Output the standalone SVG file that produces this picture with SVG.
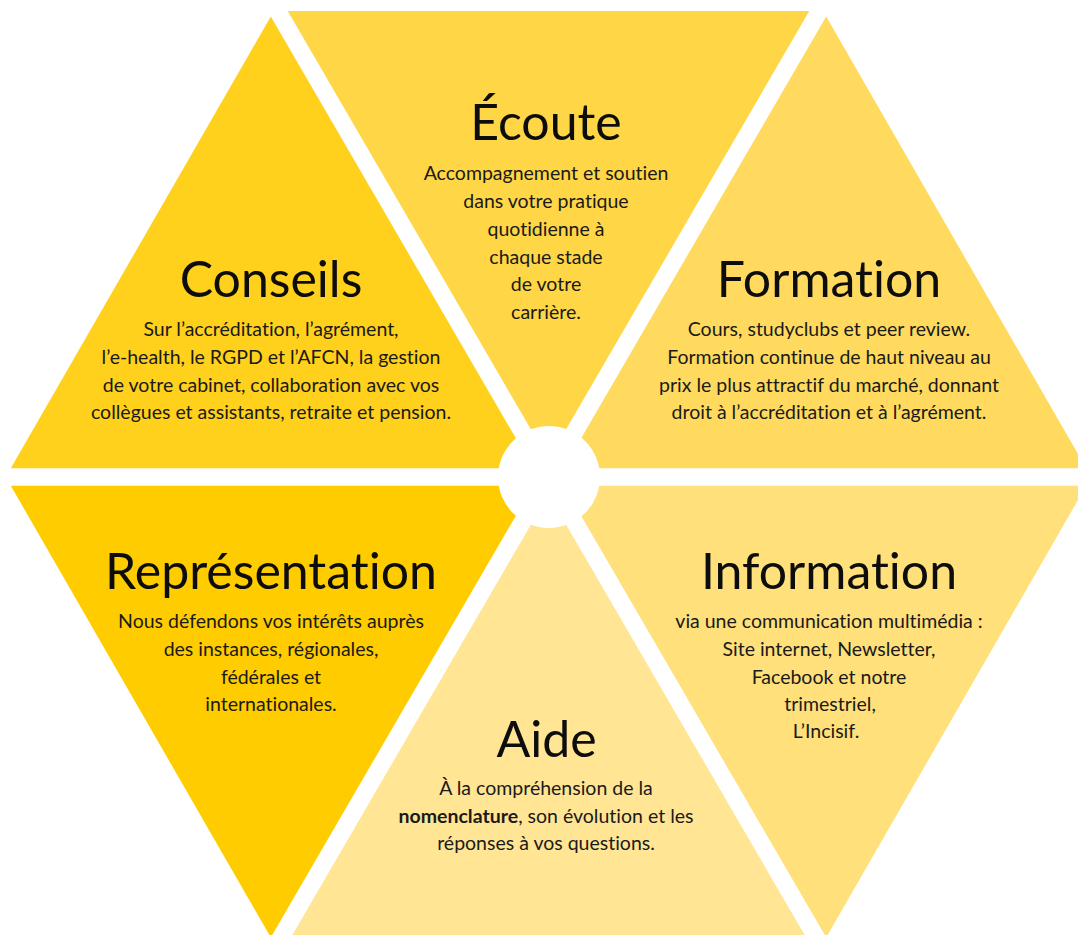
<svg xmlns="http://www.w3.org/2000/svg" width="1078" height="935" viewBox="0 0 1078 935">
  <style>
    .title { font-family: Lato, "Open Sans", "Liberation Sans", sans-serif; font-size: 50px; fill: #0d0d0d; text-anchor: middle; font-variant-ligatures: none; }
    .body { font-family: Lato, "Open Sans", "Liberation Sans", sans-serif; font-size: 19.5px; fill: #1a1a1a; text-anchor: middle; font-variant-ligatures: none; }
    .body .strong { font-weight: 700; }
  </style>
  <rect width="1078" height="935" fill="#ffffff"/>

  <!-- six wedges of the hexagon, separated by white gaps -->
  <g id="ecoute">
    <polygon points="287.7,11 809.3,11 548.5,459.6" fill="#ffd646"/>
    <text class="title" x="546" y="140">Écoute</text>
    <text class="body" x="546" y="180">Accompagnement et soutien</text>
    <text class="body" x="546" y="208">dans votre pratique</text>
    <text class="body" x="546" y="236">quotidienne à</text>
    <text class="body" x="546" y="263.5">chaque stade</text>
    <text class="body" x="546" y="291">de votre</text>
    <text class="body" x="546" y="318.5">carrière.</text>
  </g>

  <g id="conseils">
    <polygon points="270.8,16.6 533.3,468.25 10.8,468.25" fill="#ffd01c"/>
    <text class="title" x="271" y="297">Conseils</text>
    <text class="body" x="271" y="336">Sur l’accréditation, l’agrément,</text>
    <text class="body" x="271" y="363.5">l’e-health, le RGPD et l’AFCN, la gestion</text>
    <text class="body" x="271" y="391.5">de votre cabinet, collaboration avec vos</text>
    <text class="body" x="271" y="418.5">collègues et assistants, retraite et pension.</text>
  </g>

  <g id="formation">
    <polygon points="826.2,16.6 1086.2,468.25 563.7,468.25" fill="#ffda5e"/>
    <text class="title" x="829" y="297">Formation</text>
    <text class="body" x="829" y="336">Cours, studyclubs et peer review.</text>
    <text class="body" x="829" y="363.5">Formation continue de haut niveau au</text>
    <text class="body" x="829" y="391.5">prix le plus attractif du marché, donnant</text>
    <text class="body" x="829" y="418.5">droit à l’accréditation et à l’agrément.</text>
  </g>

  <g id="representation">
    <polygon points="10.8,485.75 533.3,485.75 270.8,937.4" fill="#ffcc00"/>
    <text class="title" x="271" y="589">Représentation</text>
    <text class="body" x="271" y="628">Nous défendons vos intérêts auprès</text>
    <text class="body" x="271" y="655.5">des instances, régionales,</text>
    <text class="body" x="271" y="683.5">fédérales et</text>
    <text class="body" x="271" y="710.5">internationales.</text>
  </g>

  <g id="information">
    <polygon points="563.7,485.75 1086.2,485.75 826.2,937.4" fill="#ffe07a"/>
    <text class="title" x="829" y="589">Information</text>
    <text class="body" x="829" y="628">via une communication multimédia :</text>
    <text class="body" x="829" y="655.5">Site internet, Newsletter,</text>
    <text class="body" x="829" y="683.5">Facebook et notre</text>
    <text class="body" x="830" y="710.5">trimestriel,</text>
    <text class="body" x="826" y="738">L’Incisif.</text>
  </g>

  <g id="aide">
    <polygon points="548.5,494.4 809.3,943 287.7,943" fill="#ffe594"/>
    <text class="title" x="546.5" y="757">Aide</text>
    <text class="body" x="546" y="795">À la compréhension de la</text>
    <text class="body" x="546" y="822.5"><tspan class="strong">nomenclature</tspan>, son évolution et les</text>
    <text class="body" x="546" y="849.5">réponses à vos questions.</text>
  </g>

  <!-- white hub at the centre -->
  <circle id="hub" cx="549" cy="477" r="51" fill="#ffffff"/>
</svg>
